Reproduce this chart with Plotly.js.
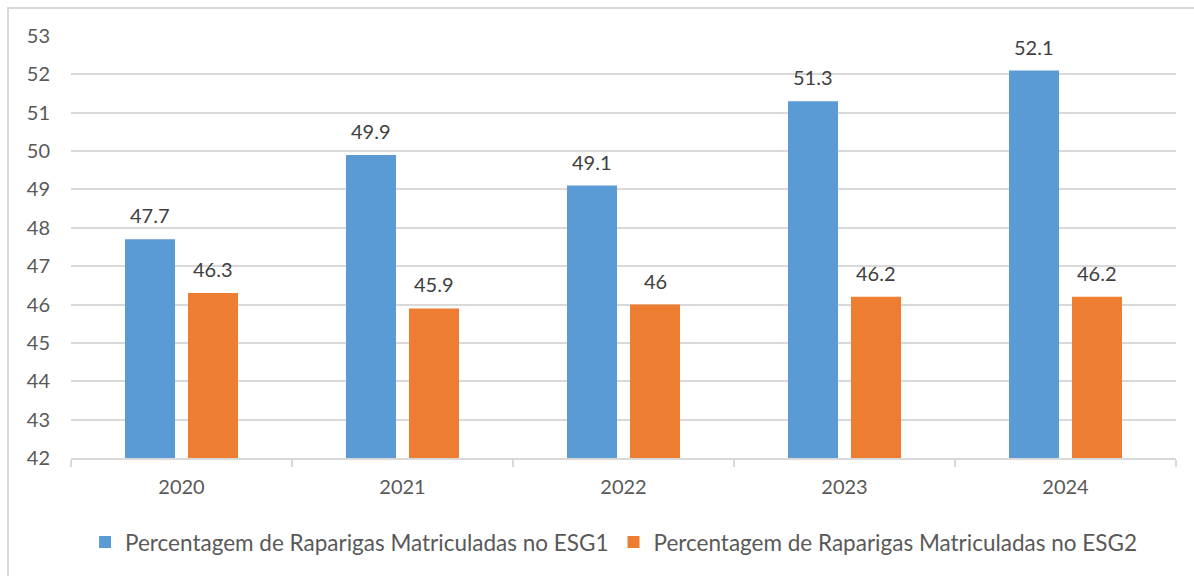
<!DOCTYPE html>
<html>
<head>
<meta charset="utf-8">
<script src="https://cdn.plot.ly/plotly-3.0.1.min.js"></script>
<style>
  html, body { margin: 0; padding: 0; background: #fff; overflow: hidden; }
  #frame { position: absolute; left: 7px; top: 7px; width: 1300px; height: 700px;
           border-left: 2px solid #d9d9d9; border-top: 2px solid #d9d9d9; }
  #chart { position: absolute; left: 0; top: 0; width: 1194px; height: 576px; }
</style>
</head>
<body>
<div id="frame"></div>
<div id="chart"></div>
<script>
const years = ['2020', '2021', '2022', '2023', '2024'];
const esg1 = [47.7, 49.9, 49.1, 51.3, 52.1];
const esg2 = [46.3, 45.9, 46, 46.2, 46.2];
const names = ['Percentagem de Raparigas Matriculadas no ESG1',
               'Percentagem de Raparigas Matriculadas no ESG2'];
const colors = ['#5B9BD5', '#ED7D31'];
const yTicks = [42, 43, 44, 45, 46, 47, 48, 49, 50, 51, 52, 53];

const FONT = 'Lato, "Noto Sans", sans-serif';

const traces = [esg1, esg2].map((vals, i) => ({
  type: 'bar',
  x: years,
  y: vals,
  name: names[i],
  marker: { color: colors[i] },
  hoverinfo: 'x+y'
}));

const annotations = [];
[esg1, esg2].forEach((vals, i) => {
  vals.forEach((v, j) => {
    annotations.push({
      x: j, y: v, xref: 'x', yref: 'y',
      text: String(v), showarrow: false,
      xanchor: 'center', yanchor: 'bottom',
      xshift: i === 0 ? -31.5 : 31.5, yshift: 10,
      font: { family: FONT, size: 20, color: '#404040' }
    });
  });
});

const layout = {
  width: 1194, height: 576,
  margin: { l: 71, r: 18, t: 36, b: 116 },
  paper_bgcolor: 'rgba(0,0,0,0)',
  plot_bgcolor: 'rgba(0,0,0,0)',
  font: { family: FONT, size: 20, color: '#595959' },
  barmode: 'group',
  bargap: 0.43,
  bargroupgap: 0.206,
  showlegend: true,
  legend: {
    orientation: 'h', x: 0.491, xanchor: 'center', y: -0.2, yanchor: 'middle',
    font: { family: FONT, size: 22.5, color: '#595959' },
    itemwidth: 30, traceorder: 'normal'
  },
  xaxis: {
    type: 'category', range: [-0.5, years.length - 0.5], autorange: false,
    showline: true, linecolor: '#d9d9d9', linewidth: 2,
    ticks: 'outside', tickson: 'boundaries', ticklen: 7, tickcolor: '#d9d9d9', tickwidth: 2,
    showgrid: false, ticklabelstandoff: 10,
    tickfont: { family: FONT, size: 20, color: '#595959' }
  },
  yaxis: {
    range: [42, 53], autorange: false, tickvals: yTicks, ticktext: yTicks.map(String),
    showgrid: true, gridcolor: '#d9d9d9', gridwidth: 2,
    zeroline: false, showline: false, ticks: '',
    ticklabelstandoff: 20,
    tickfont: { family: FONT, size: 20, color: '#595959' }
  },
  annotations: annotations
};

Plotly.newPlot('chart', traces, layout, { displayModeBar: false });
</script>
</body>
</html>
